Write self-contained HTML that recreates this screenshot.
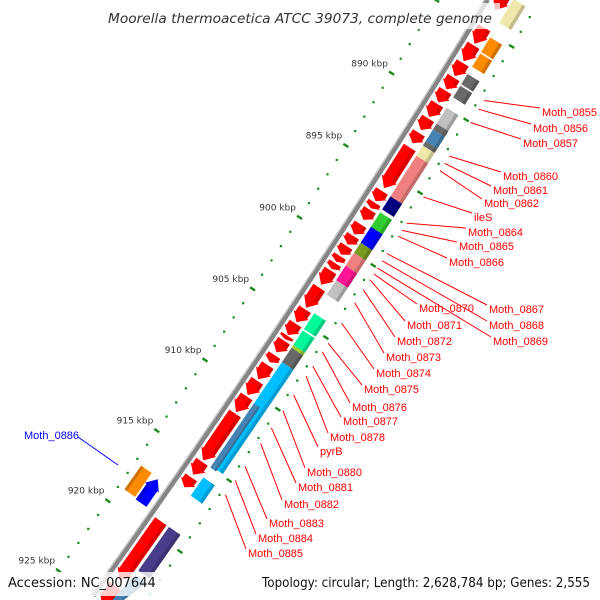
<!DOCTYPE html>
<html><head><meta charset="utf-8"><style>
html,body{margin:0;padding:0;background:#fff;width:600px;height:600px;overflow:hidden}
svg{display:block;overflow:hidden}
</style></head><body>
<svg id="map" width="600" height="600" viewBox="0 0 600 600" xmlns="http://www.w3.org/2000/svg">
<defs><clipPath id="frame"><rect x="0" y="0" width="600" height="600"/></clipPath></defs>
<g clip-path="url(#frame)">
<g id="ticks"></g>
<g id="backbone"></g>
<g id="features"></g>
<g id="labels"></g>
</g>
<rect x="100" y="3" width="400" height="26" fill="#fff" opacity="0.75"/>
<text x="108" y="23" font-family="DejaVu Sans, sans-serif" font-style="italic" font-size="13" fill="#333" textLength="384" lengthAdjust="spacingAndGlyphs">Moorella thermoacetica ATCC 39073, complete genome</text>
<rect x="2" y="572" width="172" height="24" fill="#fff" opacity="0.8"/>
<rect x="256" y="572" width="340" height="24" fill="#fff" opacity="0.8"/>
<text x="8" y="587" font-family="DejaVu Sans, sans-serif" font-size="13" fill="#111">Accession: NC_007644</text>
<text x="262" y="587" font-family="DejaVu Sans, sans-serif" font-size="13" fill="#111" textLength="328" lengthAdjust="spacingAndGlyphs">Topology: circular; Length: 2,628,784 bp; Genes: 2,555</text>
</svg>
<script>
// ---- data ----
const arrowStart = [882.6,884.9,886.1,887.3,888.3,889.2,890.1,891.1,892.1,893.1,896.1,896.9,897.4,898.4,899.2,899.9,900.6,901.1,901.6,902.8,904.3,905.3,906.15,906.5,907.5,908.2,909.3,910.4,911.6,915.0,916.1,919.2,923.8];
const arrowEnd   = [883.7,886.0,887.2,888.2,889.1,890.0,891.0,891.9,892.8,895.9,896.8,897.3,898.1,899.1,899.8,900.5,901.0,901.5,902.6,904.2,905.2,906.1,906.4,907.3,908.0,909.2,910.3,911.5,914.9,915.9,916.8,923.4,925.2];
const boxStart = [882.6,885.2,886.3,887.7,888.5,890.0,891.1,891.5,892.3,892.6,893.3,896.1,897.2,898.2,899.3,900.0,900.9,901.9,904.2,905.4,906.4,906.6,907.6,908.7,910.5,915.7,919.2,922.6];
const boxEnd   = [884.2,886.2,887.2,888.4,889.3,891.1,891.5,892.3,892.6,893.3,896.1,897.0,898.4,899.3,900.0,900.9,901.9,902.9,905.3,906.4,906.6,907.6,908.7,914.9,915.0,917.0,922.3,924.9];
const boxColor = ['#eee8aa','#ff8c00','#ff8c00','#696969','#696969','#c0c0c0','#696969','#4682b4','#696969','#eee8aa','#f08080','#000080','#32cd32','#0000ff','#7a9a20','#f08080','#ff1493','#c0c0c0','#00fa9a','#00fa9a','#9acd32','#696969','#00bfff','#00bfff','#4682b4','#00bfff','#483d8b','#4682b4'];
const boxInner = [0,0,0,0,0,0,0,0,0,0,0,0,0,0,0,0,0,0,0,0,0,0,0,0,1,0,0,0];
const revArrowStart = [917.3];
const revArrowEnd = [919.0];
const revBoxStart = [917.2];
const revBoxEnd = [918.9];
const tickMajor = [885,890,895,900,905,910,915,920,925];
const tickLabels = ['885 kbp','890 kbp','895 kbp','900 kbp','905 kbp','910 kbp','915 kbp','920 kbp','925 kbp'];
const geneNames = ['Moth_0855','Moth_0856','Moth_0857','Moth_0860','Moth_0861','Moth_0862','ileS','Moth_0864','Moth_0865','Moth_0866','Moth_0867','Moth_0868','Moth_0869','Moth_0870','Moth_0871','Moth_0872','Moth_0873','Moth_0874','Moth_0875','Moth_0876','Moth_0877','Moth_0878','pyrB','Moth_0880','Moth_0881','Moth_0882','Moth_0883','Moth_0884','Moth_0885'];
const geneAnchor = [888.5,889.1,890.0,892.3,892.8,893.3,895.1,896.9,897.4,897.8,899.0,899.5,900.0,900.4,900.8,901.5,902.4,903.8,905.2,905.8,906.8,907.5,908.8,909.9,911.1,912.2,913.8,914.8,915.8];
// label text layout (left x, centre y)
const labelX = [542,533,523,503,493,484,474,468,459,449,489,489,493,419,407,397,386,376,364,352,343,330,320,307,298,284,269,258,248];
const labelY = [112,128,143,176,190,203,217,232,246,262,309,325,341,308,325,341,357,373,389,407,421,437,451,472,487,504,523,538,553];

// ---- geometry ----
const CX=-7836, CY=-5076, R=9749;
function pt(k,off){const a=(32.04+(k-890)*0.101)*Math.PI/180;const r=R+off;return [CX+r*Math.cos(a),CY+r*Math.sin(a)];}
const NS='http://www.w3.org/2000/svg';
function mk(tag,attrs,parent){const e=document.createElementNS(NS,tag);for(const k in attrs)e.setAttribute(k,attrs[k]);parent.appendChild(e);return e;}
function P(list){return list.map(p=>p[0].toFixed(1)+','+Math.min(600,p[1]).toFixed(1)).join(' ');}
const gT=document.getElementById('ticks'),gB=document.getElementById('backbone'),gF=document.getElementById('features'),gL=document.getElementById('labels');

// backbone
const bb=[];for(let k=883.4;k<=925.2;k+=0.2)bb.push(pt(k,0));
let e=mk('polyline',{points:P(bb),fill:'none',stroke:'#858585','stroke-width':5},gB);


const bb2=[];for(let k=883.4;k<=925.2;k+=0.2)bb2.push(pt(k,-2.5));
e=mk('polyline',{points:P(bb2),fill:'none',stroke:'#c4c4c4','stroke-width':1.5},gB);



// ticks
for(let k=883;k<=925;k++){
  for(const off of [-43,45]){
    const major=tickMajor.indexOf(k)>=0;
    if(major){const a=pt(k,off-3),b=pt(k,off+3);
      e=mk('line',{x1:a[0],y1:a[1],x2:b[0],y2:b[1],stroke:'#1a8a1a','stroke-width':2.4},gT);
      
    } else {const c=pt(k,off);
      if(c[1]>598||c[1]<0) continue;
      e=mk('rect',{x:c[0]-1,y:c[1]-1,width:2.2,height:2.2,fill:'#1a8a1a'},gT);
      
    }
    
  }
}
tickMajor.forEach((k,i)=>{const c=pt(k,-52);
  e=mk('text',{x:c[0]+4,y:c[1]-2,'text-anchor':'end','font-family':'DejaVu Sans, sans-serif','font-size':9,fill:'#333'},gT);
  e.textContent=tickLabels[i];
  
  
});

function boxShape(s,en,o1,o2,color,name){
  const poly=[pt(s,o1),pt(en,o1),pt(en,o2),pt(s,o2)];
  e=mk('polygon',{points:P(poly),fill:color},gF);
  
  
  const hi=Math.max(o1,o2), lo=Math.min(o1,o2), d=(hi-lo)*0.25;
  const sp=o2>o1?[pt(s,hi-d),pt(en,hi-d),pt(en,hi),pt(s,hi)]:[pt(s,lo),pt(en,lo),pt(en,lo+d),pt(s,lo+d)];
  e=mk('polygon',{points:P(sp),fill:'#000',opacity:0.18},gF);
  
  
}
function arrowShape(s,en,o1,o2,color,dir,name){
  const h=Math.min(0.6,(en-s)*0.55);
  let poly;
  if(dir>0) poly=[pt(s,o1),pt(en-h,o1),pt(en-h,o1-2),pt(en,(o1+o2)/2),pt(en-h,o2+2),pt(en-h,o2),pt(s,o2)];
  else poly=[pt(en,o1),pt(s+h,o1),pt(s+h,o1+2),pt(s,(o1+o2)/2),pt(s+h,o2-2),pt(s+h,o2),pt(en,o2)];
  e=mk('polygon',{points:P(poly),fill:color},gF);
  
  
  const hi=Math.max(o1,o2),lo=Math.min(o1,o2),d=(hi-lo)*0.28;
  const a=dir>0?s:s+h, b=dir>0?en-h:en;
  const sp=o2>o1?[pt(a,hi-d),pt(b,hi-d),pt(b,hi),pt(a,hi)]:[pt(a,lo),pt(b,lo),pt(b,lo+d),pt(a,lo+d)];
  e=mk('polygon',{points:P(sp),fill:'#000',opacity:0.15},gF);
  
  
}
arrowStart.forEach((s,i)=>arrowShape(s,arrowEnd[i],5,19,'#ff0000',1,'gene-arrow'));
boxStart.forEach((s,i)=>{ if(boxInner[i]) boxShape(s,boxEnd[i],22,29,boxColor[i],'cog-box'); else boxShape(s,boxEnd[i],22,36,boxColor[i],'cog-box'); });
revArrowStart.forEach((s,i)=>arrowShape(s,revArrowEnd[i],-8,-21,'#0000ff',-1,'reverse-gene-arrow'));
revBoxStart.forEach((s,i)=>boxShape(s,revBoxEnd[i],-23,-36,'#ff8c00','reverse-cog-box'));

// gene labels
geneNames.forEach((n,i)=>{
  const a=pt(geneAnchor[i],50);
  e=mk('line',{x1:a[0],y1:a[1],x2:labelX[i]-2,y2:labelY[i]-4,stroke:'#ff0000','stroke-width':1},gL);
  
  
  e=mk('text',{x:labelX[i],y:labelY[i]+4,'font-family':'Liberation Sans, sans-serif','font-size':11,fill:'#ff0000'},gL);
  e.textContent=n;
  
  
});
e=mk('line',{x1:78,y1:437,x2:118,y2:465,stroke:'#0000ff','stroke-width':1},gL);


e=mk('text',{x:24,y:439,'font-family':'Liberation Sans, sans-serif','font-size':11,fill:'#0000ff'},gL);
e.textContent='Moth_0886';


</script>
</body></html>
